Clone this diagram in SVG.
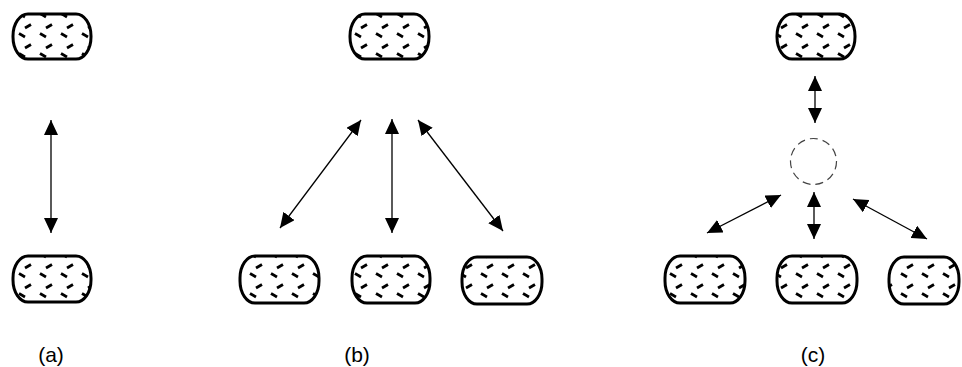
<svg xmlns="http://www.w3.org/2000/svg" width="962" height="367" viewBox="0 0 962 367">
  <defs>
    <!-- zigzag hatch used inside every node -->
    <pattern id="zigzag" patternUnits="userSpaceOnUse" width="21" height="20">
      <path d="M4 8 L10 4.5" stroke="#000" stroke-width="2.8" stroke-linecap="butt"/>
      <path d="M-2 13.5 L4 17 M19 13.5 L25 17" stroke="#000" stroke-width="2.8" stroke-linecap="butt"/>
    </pattern>
    <marker id="head" viewBox="0 0 15 14" refX="15" refY="7" markerWidth="15" markerHeight="14" markerUnits="userSpaceOnUse" orient="auto-start-reverse">
      <path d="M0 0 L15 7 L0 14 Z" fill="#000"/>
    </marker>
  </defs>
  <style>
    .node { fill: url(#zigzag); stroke: #000; stroke-width: 3; }
    .link { stroke: #000; stroke-width: 1.3; fill: none; marker-start: url(#head); marker-end: url(#head); }
    .hub { fill: none; stroke: #444; stroke-width: 1.2; stroke-dasharray: 8 5; }
    .label { font-family: "Liberation Sans", Arial, sans-serif; font-size: 21px; fill: #000; text-anchor: middle; }
  </style>

  <!-- (a) point to point -->
  <g id="a-top"><rect class="node" x="13" y="14" width="78" height="45" rx="15" ry="22"/></g>
  <g id="a-bottom"><rect class="node" x="13" y="256" width="78" height="46" rx="15" ry="22"/></g>

  <!-- (b) one to many -->
  <g id="b-top"><rect class="node" x="350" y="14" width="79" height="45" rx="15" ry="22"/></g>
  <g id="b-left"><rect class="node" x="240" y="256" width="79" height="47" rx="15" ry="22"/></g>
  <g id="b-mid"><rect class="node" x="352" y="256" width="78" height="47" rx="15" ry="22"/></g>
  <g id="b-right"><rect class="node" x="462" y="257" width="80" height="47" rx="15" ry="22"/></g>

  <!-- (c) through a shared hub -->
  <g id="c-top"><rect class="node" x="777" y="14" width="78" height="45" rx="15" ry="22"/></g>
  <g id="c-hub"><circle class="hub" cx="813.5" cy="161.5" r="23"/></g>
  <g id="c-left"><rect class="node" x="665" y="256" width="80" height="47" rx="15" ry="22"/></g>
  <g id="c-mid"><rect class="node" x="777" y="256" width="80" height="47" rx="15" ry="22"/></g>
  <g id="c-right"><rect class="node" x="889" y="257" width="70" height="47" rx="15" ry="22"/></g>

  <g id="connectors">
    <line class="link" x1="51" y1="120" x2="51" y2="233"/>

    <line class="link" x1="361" y1="120" x2="280" y2="228"/>
    <line class="link" x1="392" y1="119" x2="392" y2="233"/>
    <line class="link" x1="418" y1="120" x2="503" y2="231"/>

    <line class="link" x1="815" y1="76" x2="815" y2="123"/>
    <line class="link" x1="781" y1="195" x2="707" y2="233"/>
    <line class="link" x1="814" y1="192" x2="814" y2="239"/>
    <line class="link" x1="853" y1="199" x2="927" y2="239"/>
  </g>

  <g id="captions">
    <text class="label" x="51" y="362">(a)</text>
    <text class="label" x="357" y="362">(b)</text>
    <text class="label" x="813" y="362">(c)</text>
  </g>
</svg>
